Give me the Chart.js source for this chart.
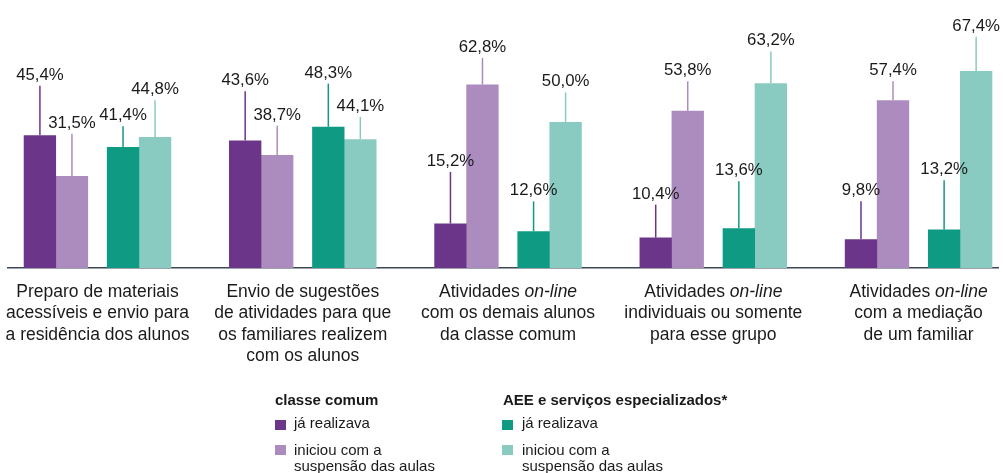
<!DOCTYPE html>
<html>
<head>
<meta charset="utf-8">
<script src="https://cdn.jsdelivr.net/npm/chart.js@4/dist/chart.umd.min.js"></script>
<style>
  body { margin: 0; background: #fff; }
  #wrap { position: relative; width: 1003px; height: 473px; font-family: "Liberation Sans", Arial, sans-serif; color: #1a1a1a; }
  #grafico { position: absolute; left: 0; top: 0; }
  .leg { position: absolute; font-size: 15px; line-height: 16px; white-space: nowrap; }
  .tit { font-weight: bold; }
  .sq { position: absolute; width: 11px; height: 10px; }
</style>
</head>
<body>
<div id="wrap">
  <canvas id="grafico" width="1003" height="473"></canvas>

  <div class="leg tit" style="left:275px; top:392px;">classe comum</div>
  <div class="sq" style="left:275px; top:420px; background:#6B368A;"></div>
  <div class="leg" style="left:294px; top:415px;">já realizava</div>
  <div class="sq" style="left:275px; top:445px; background:#AC8CBF;"></div>
  <div class="leg" style="left:294px; top:442px;">iniciou com a<br>suspensão das aulas</div>

  <div class="leg tit" style="left:503px; top:392px;">AEE e serviços especializados*</div>
  <div class="sq" style="left:502px; top:420px; background:#0F9A83;"></div>
  <div class="leg" style="left:522px; top:415px;">já realizava</div>
  <div class="sq" style="left:502px; top:445px; background:#89CBC0;"></div>
  <div class="leg" style="left:522px; top:442px;">iniciou com a<br>suspensão das aulas</div>
</div>

<script>
// categorias (uma linha por elemento)
const categorias = [
   ["Preparo de materiais", "acessíveis e envio para", "a residência dos alunos"],
   ["Envio de sugestões", "de atividades para que", "os familiares realizem", "com os alunos"],
   ["Atividades on-line", "com os demais alunos", "da classe comum"],
   ["Atividades on-line", "individuais ou somente", "para esse grupo"],
   ["Atividades on-line", "com a mediação", "de um familiar"]
];
const termoItalico = "on-line";

// valores (%)
const comumJa = [45.4, 43.6, 15.2, 10.4, 9.8];
const comumIniciou = [31.5, 38.7, 62.8, 53.8, 57.4];
const aeeJa = [41.4, 48.3, 12.6, 13.6, 13.2];
const aeeIniciou = [44.8, 44.1, 50.0, 63.2, 67.4];

// ponta superior das linhas finas acima das barras (%)
const comumJaSup = [62.4, 60.5, 32.9, 21.7, 22.8];
const comumIniciouSup = [45.9, 48.7, 71.9, 63.9, 63.9];
const aeeJaSup = [48.5, 63.1, 22.8, 29.7, 30.0];
const aeeIniciouSup = [57.4, 51.7, 60.1, 74.1, 79.1];

// largura da barra e vao entre os pares, em unidades do eixo x
const barra = 0.156;
const vao = 0.093;
const desloc = [-(vao / 2 + 1.5 * barra), -(vao / 2 + 0.5 * barra), vao / 2 + 0.5 * barra, vao / 2 + 1.5 * barra];

function serie(label, valores, sup, cor, k) {
   return {
      label: label,
      data: valores.map((v, i) => ({ x: i + desloc[k], y: v })),
      sup: sup,
      backgroundColor: cor,
      borderWidth: 0,
      grouped: false,
      barPercentage: 1.01,
      categoryPercentage: 1,
   };
}

function formata(v) {
   return v.toFixed(1).replace(".", ",") + "%";
}

const fonte = '"Liberation Sans", Arial, sans-serif';

// texto com o termo em italico
function textoMisto(ctx, linha, cx, y) {
   const partes = linha.split(termoItalico);
   const pedacos = [];
   partes.forEach((p, i) => {
      if (p) pedacos.push({ t: p, it: false });
      if (i < partes.length - 1) pedacos.push({ t: termoItalico, it: true });
   });
   let total = 0;
   pedacos.forEach(p => {
      ctx.font = (p.it ? "italic " : "") + "17.5px " + fonte;
      p.w = ctx.measureText(p.t).width;
      total += p.w;
   });
   let x = cx - total / 2;
   ctx.textAlign = "left";
   pedacos.forEach(p => {
      ctx.font = (p.it ? "italic " : "") + "17.5px " + fonte;
      ctx.fillText(p.t, x, y);
      x += p.w;
   });
}

const rotulos = {
   id: "rotulos",
   afterDatasetsDraw(chart) {
      const ctx = chart.ctx;
      const yScale = chart.scales.y;
      const xScale = chart.scales.x;
      ctx.save();
      chart.data.datasets.forEach((ds, d) => {
         const meta = chart.getDatasetMeta(d);
         meta.data.forEach((bar, i) => {
            const topo = yScale.getPixelForValue(ds.sup[i]);
            ctx.strokeStyle = ds.backgroundColor;
            ctx.lineWidth = 1.5;
            ctx.beginPath();
            ctx.moveTo(bar.x, bar.y);
            ctx.lineTo(bar.x, topo);
            ctx.stroke();
            ctx.fillStyle = "#1a1a1a";
            ctx.font = "16.8px " + fonte;
            ctx.textAlign = "center";
            ctx.textBaseline = "alphabetic";
            ctx.fillText(formata(ds.data[i].y), bar.x, topo - 6);
         });
      });
      ctx.fillStyle = "#1a1a1a";
      ctx.textBaseline = "alphabetic";
      categorias.forEach((linhas, i) => {
         const cx = xScale.getPixelForValue(i);
         linhas.forEach((l, j) => {
            textoMisto(ctx, l, cx, chart.chartArea.bottom + 29 + j * 21.3);
         });
      });
      ctx.restore();
   }
};

new Chart(document.getElementById("grafico"), {
   type: "bar",
   data: {
      datasets: [
         serie("classe comum - já realizava", comumJa, comumJaSup, "#6B368A", 0),
         serie("classe comum - iniciou com a suspensão das aulas", comumIniciou, comumIniciouSup, "#AC8CBF", 1),
         serie("AEE - já realizava", aeeJa, aeeJaSup, "#0F9A83", 2),
         serie("AEE - iniciou com a suspensão das aulas", aeeIniciou, aeeIniciouSup, "#89CBC0", 3),
      ],
   },
   plugins: [rotulos],
   options: {
      responsive: false,
      animation: false,
      events: [],
      layout: {
         padding: { top: 5, left: 8, right: 5, bottom: 205 },
      },
      plugins: {
         legend: { display: false },
         tooltip: { enabled: false },
      },
      scales: {
         x: {
            type: "linear",
            offset: false,
            min: -0.436,
            max: 4.387,
            grid: { display: false },
            ticks: { display: false },
            border: { display: true, color: "#3D4754", width: 1.5 },
            afterFit: s => { s.height = 0; },
         },
         y: {
            display: false,
            min: 0,
            max: 90,
         },
      },
   },
});
</script>
</body>
</html>
